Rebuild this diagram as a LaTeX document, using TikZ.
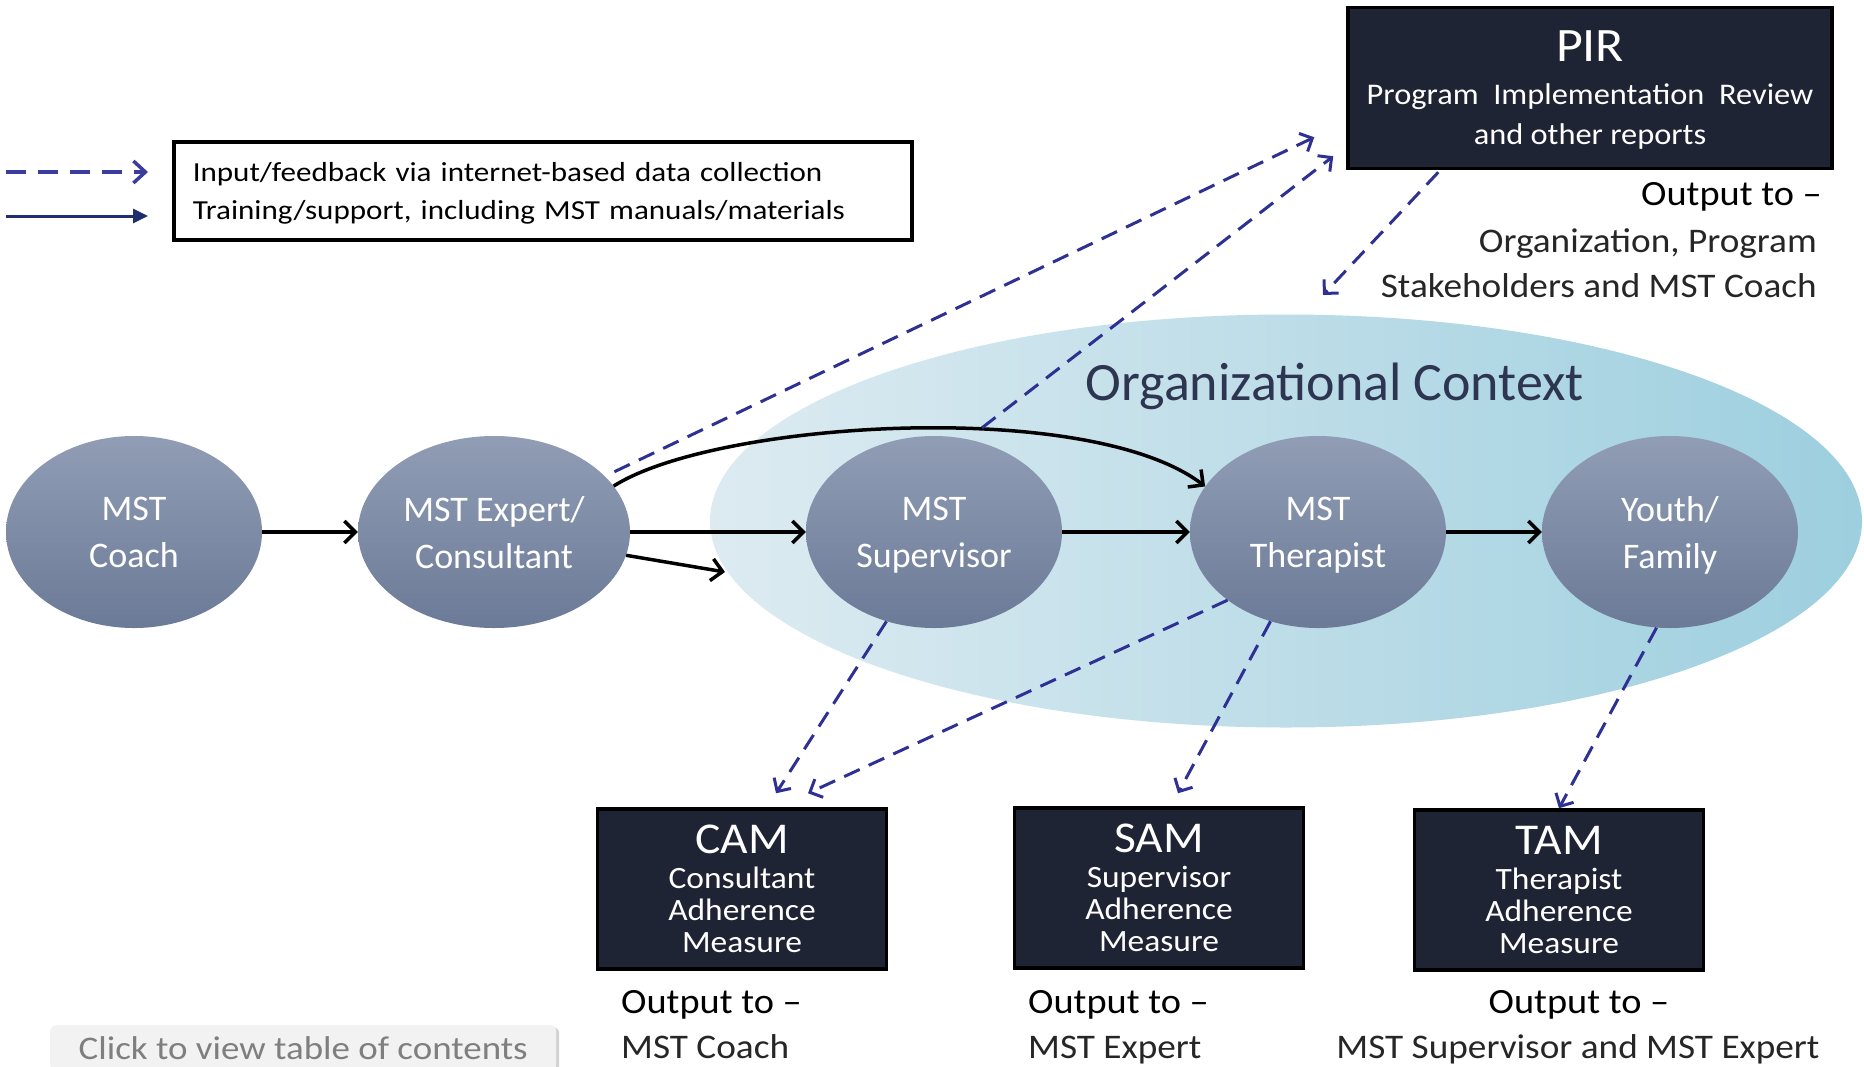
\documentclass[tikz,border=0pt]{standalone}
\usepackage{fontspec}
\setmainfont{Carlito}
\newfontfamily\widefont{Carlito}[FakeStretch=1.08]
\newfontfamily\legendfont{Carlito}[FakeStretch=1.13]
\newfontfamily\btnfont{Carlito}[FakeStretch=1.12]
\usetikzlibrary{arrows.meta,calc,shapes.geometric,shadows}
\definecolor{boxfill}{HTML}{1F2434}
\definecolor{dashblue}{HTML}{2E3192}
\definecolor{legdash}{HTML}{3C3C9E}
\definecolor{legsolid}{HTML}{1F2E6E}
\definecolor{elltop}{HTML}{919DB5}
\definecolor{ellbot}{HTML}{6B7A97}
\definecolor{ctxleft}{HTML}{DDEBF1}
\definecolor{ctxright}{HTML}{9DCFDF}
\definecolor{ctxtext}{HTML}{2D3550}
\definecolor{lighttext}{HTML}{262626}
\definecolor{btnfill}{HTML}{F2F2F2}
\definecolor{btntext}{HTML}{7F7F7F}
\begin{document}
\begin{tikzpicture}[x=1pt,y=-1pt,
  actor/.style={ellipse, inner sep=0pt, minimum width=256pt, minimum height=192pt,
    top color=elltop, bottom color=ellbot, text=white, align=center, text depth=0pt,
    font=\fontsize{36}{47}\selectfont},
  measure/.style={draw=black, line width=3.5pt, fill=boxfill, text=white, align=center,
    minimum width=289pt, minimum height=160pt, inner sep=0pt, text depth=0pt,
    font=\widefont\fontsize{31}{32}\selectfont},
  flow/.style={line width=3.5pt, -{Straight Barb[length=11pt,width=22pt,line width=3.5pt]}},
  feed/.style={dashblue, line width=3pt, dash pattern=on 17pt off 10pt,
    -{Straight Barb[length=10pt,width=20pt,line width=3pt]}},
  outhead/.style={inner sep=0pt, font=\widefont\fontsize{35.5}{40}\selectfont},
  outbody/.style={inner sep=0pt, text=lighttext, font=\widefont\fontsize{34.5}{40}\selectfont},
]
\useasboundingbox (0,0) rectangle (1864,1066);
\fill[white] (0,0) rectangle (1864,1066);

% organizational context
\node[ellipse, minimum width=1152pt, minimum height=413pt, inner sep=0pt,
  left color=ctxleft, right color=ctxright] (ctx) at (1286,521) {};
\node[text=ctxtext, font=\fontsize{54}{60}\selectfont, anchor=base, inner sep=0pt]
  (ctxlabel) at (1335,400) {Organizational Context};

% actors
\node[actor] (coach) at (134,532) {MST\\Coach};
\node[actor, minimum width=272pt] (expert) at (494,532) {MST Expert/\\Consultant};
\node[actor] (sup) at (934,532) {MST\\Supervisor};
\node[actor] (ther) at (1318,532) {MST\\Therapist};
\node[actor] (youth) at (1670,532) {Youth/\\Family};

% report boxes
\node[measure, minimum width=484pt, minimum height=161pt, font=\widefont\fontsize{30}{40}\selectfont]
  (pir) at (1590,88) {{\fontsize{48}{48}\selectfont PIR}\\[3pt]Program\ \ Implementation\ \ Review\\and other reports};
\node[measure] (cam) at (742,889) {{\fontsize{44}{44}\selectfont CAM}\\[3pt]Consultant\\Adherence\\Measure};
\node[measure] (sam) at (1159,888) {{\fontsize{44}{44}\selectfont SAM}\\[3pt]Supervisor\\Adherence\\Measure};
\node[measure] (tam) at (1559,890) {{\fontsize{44}{44}\selectfont TAM}\\[3pt]Therapist\\Adherence\\Measure};

% output texts
\node[outhead, anchor=base east] (pirout) at (1822,205) {Output to –};
\node[outbody, anchor=base east] (pirdest1) at (1817,252) {Organization, Program};
\node[outbody, anchor=base east] (pirdest2) at (1817,297) {Stakeholders and MST Coach};
\node[outhead, anchor=base west] (camout) at (621,1013) {Output to –};
\node[outbody, anchor=base west] (camdest) at (621,1058) {MST Coach};
\node[outhead, anchor=base west] (samout) at (1028,1013) {Output to –};
\node[outbody, anchor=base west] (samdest) at (1028,1058) {MST Expert};
\node[outhead, anchor=base] (tamout) at (1579,1013) {Output to –};
\node[outbody, anchor=base] (tamdest) at (1578,1058) {MST Supervisor and MST Expert};

% legend
\node[draw=black, line width=3.5pt, anchor=north west, text width=700pt, inner xsep=19pt,
  minimum height=98pt, align=left, text height=21pt, text depth=39pt,
  font=\legendfont\fontsize{27.5}{38}\selectfont]
  (legend) at (172,140) {Input/feedback via internet-based data collection\\Training/support, including MST manuals/materials};
\coordinate (ldA) at (6,172); \coordinate (ldB) at (148,172);
\coordinate (lsA) at (6,216); \coordinate (lsB) at (148,216);
\draw[legdash, line width=3.5pt, dash pattern=on 20pt off 12pt,
  -{Straight Barb[length=12pt,width=22pt,line width=3.5pt]}] (ldA) -- (ldB);
\draw[legsolid, line width=3pt, -{Triangle[length=15pt,width=14pt]}] (lsA) -- (lsB);

% training / support flow
\draw[flow] (coach.east) -- (expert.west);
\draw[flow] (expert.east) -- (sup.west);
\draw[flow] (sup.east) -- (ther.west);
\draw[flow] (ther.east) -- (youth.west);
\coordinate (ctxin) at (725,572);
\draw[flow] (expert.-10) -- (ctxin);
\draw[flow] (expert.21) .. controls ($(expert.21)+(102,-65)$) and ($(ther.158)+(-117,-89)$) .. (ther.158);

% feedback (dashed)
\draw[feed] ($(expert.27)+(10,-4)$) -- ($(pir.south west)+(-32,-33)$);
\draw[feed] ($(sup.north)+(48,-8)$) -- ($(pir.south west)+(-13,-14)$);
\coordinate (pirfb) at (1323,295);
\draw[feed] ($(pir.south west)+(92,2)$) -- (pirfb);
\draw[feed] (sup.-118) -- ($(cam.north)+(34,-14)$);
\draw[feed] (ther.-143) -- ($(cam.north)+(66,-14)$);
\draw[feed] (ther.-118) -- ($(sam.north)+(19,-13)$);
\draw[feed] (youth.-98) -- (tam.north);

% button
\node[fill=btnfill, rounded corners=6pt, anchor=north west, minimum width=506pt,
  minimum height=46pt, text=btntext, font=\btnfont\fontsize{33}{36}\selectfont,
  drop shadow={shadow xshift=3pt, shadow yshift=-2pt, opacity=0.35}]
  (toc) at (50,1025) {Click to view table of contents};
\end{tikzpicture}
\end{document}
